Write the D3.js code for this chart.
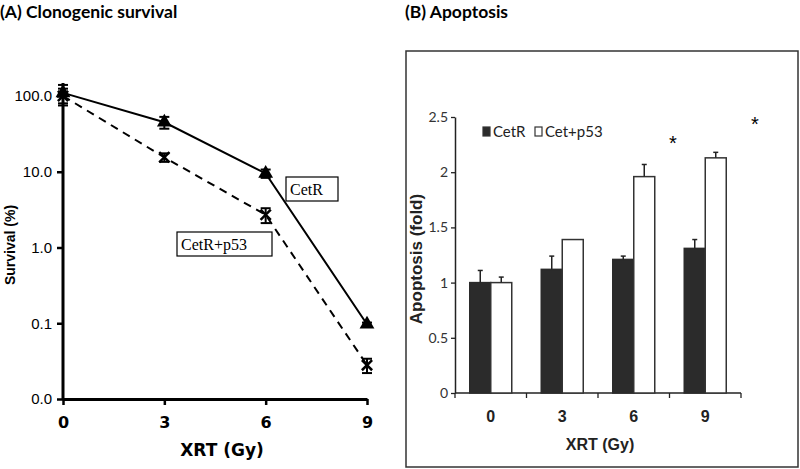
<!DOCTYPE html>
<html><head><meta charset="utf-8">
<script src="https://cdn.jsdelivr.net/npm/d3@7"></script>
<style>body{margin:0;background:#fff}svg{display:block}</style>
</head><body>
<script>
// ---- Panel A data ----
const doses = [0, 3, 6, 9];
const survivalCetR = [110, 45, 9.5, 0.097];
const survivalCetRErr = [30, 8, 1.2, 0.005];
const survivalP53 = [100, 15.5, 2.7, 0.028];
const survivalP53Err = [25, 2, 0.6, 0.006];
const survTicks = [0.01, 0.1, 1, 10, 100];
const survTickLabels = ["0.0", "0.1", "1.0", "10.0", "100.0"];

// ---- Panel B data ----
const categories = ["0", "3", "6", "9"];
const apopCetR = [1.0, 1.12, 1.21, 1.31];
const apopCetRErr = [0.11, 0.12, 0.03, 0.08];
const apopP53 = [1.0, 1.39, 1.96, 2.13];
const apopP53Err = [0.05, 0, 0.11, 0.05];
const apopTicks = [0, 0.5, 1, 1.5, 2, 2.5];
const seriesNames = ["CetR", "Cet+p53"];

const svg = d3.select("body").append("svg").attr("width", 800).attr("height", 469);

// ================= Panel A =================
const gA = svg.append("g");
gA.append("text").attr("x", 0).attr("y", 18).text("(A) Clonogenic survival")
  .attr("font-family", "Lato").attr("font-weight", "bold").attr("font-size", 17.5);

const xA = d3.scaleLinear().domain([0, 9]).range([63, 367]);
const yA = d3.scaleLog().domain([0.01, 100]).range([399, 96]);

// axes
const yAxisA = d3.axisLeft(yA).tickValues(survTicks).tickFormat((d, i) => survTickLabels[i]).tickSize(6).tickSizeOuter(0);
const yg = gA.append("g").attr("transform", "translate(63,0)").call(yAxisA);
yg.select(".domain").remove();
gA.append("line").attr("x1", 63).attr("x2", 63).attr("y1", 83).attr("y2", 400).attr("stroke", "#000").attr("stroke-width", 3);
yg.selectAll(".tick line").attr("stroke-width", 2.5);
yg.selectAll(".tick text").attr("font-family", "Liberation Sans").attr("font-size", 15).attr("x", -11);

const xAxisA = d3.axisBottom(xA).tickValues(doses).tickSize(6).tickSizeOuter(0);
const xg = gA.append("g").attr("transform", "translate(0,399)").call(xAxisA);
xg.select(".domain").attr("stroke-width", 3);
xg.selectAll(".tick line").attr("stroke-width", 2.5);
xg.selectAll(".tick text").attr("font-family", "DejaVu Sans").attr("font-weight", "bold").attr("font-size", 16).attr("dy", "1.25em");

gA.append("text").attr("x", 222).attr("y", 456).attr("text-anchor", "middle").text("XRT (Gy)")
  .attr("font-family", "DejaVu Sans").attr("font-weight", "bold").attr("font-size", 17);
gA.append("text").attr("transform", "translate(15,245) rotate(-90)").attr("text-anchor", "middle").text("Survival (%)")
  .attr("font-family", "Liberation Sans").attr("font-weight", "bold").attr("font-size", 14);

// lines
const lineA = (vals) => d3.line().x((d, i) => xA(doses[i])).y(d => yA(d))(vals);
gA.append("path").attr("d", lineA(survivalCetR)).attr("fill", "none").attr("stroke", "#000").attr("stroke-width", 2);
gA.append("path").attr("d", lineA(survivalP53)).attr("fill", "none").attr("stroke", "#000").attr("stroke-width", 2).attr("stroke-dasharray", "8,6");

function errBars(g, vals, errs) {
  vals.forEach((v, i) => {
    const x = xA(doses[i]);
    const y1 = yA(v + errs[i]), y2 = yA(Math.max(v - errs[i], 0.0105));
    g.append("line").attr("x1", x).attr("x2", x).attr("y1", y1).attr("y2", y2).attr("stroke", "#000").attr("stroke-width", 2);
    [y1, y2].forEach(y => g.append("line").attr("x1", x - 5).attr("x2", x + 5).attr("y1", y).attr("y2", y).attr("stroke", "#000").attr("stroke-width", 2));
  });
}
errBars(gA, survivalCetR, survivalCetRErr);
errBars(gA, survivalP53, survivalP53Err);

gA.selectAll(".tri").data(survivalCetR).join("path")
  .attr("transform", (d, i) => `translate(${xA(doses[i])},${yA(d)})`)
  .attr("d", d3.symbol(d3.symbolTriangle, 95)).attr("fill", "#000");
gA.selectAll(".xm").data(survivalP53).join("path")
  .attr("transform", (d, i) => `translate(${xA(doses[i])},${yA(d)})`)
  .attr("d", d3.symbol(d3.symbolTimes, 70)).attr("fill", "none").attr("stroke", "#000").attr("stroke-width", 2.5);

// label boxes
function labelBox(x, y, w, h, txt) {
  gA.append("rect").attr("x", x).attr("y", y).attr("width", w).attr("height", h).attr("fill", "#fff").attr("stroke", "#000").attr("stroke-width", 1.2);
  gA.append("text").attr("x", x + 4).attr("y", y + h - 6).text(txt).attr("font-family", "Liberation Serif").attr("font-size", 16);
}
labelBox(286, 177, 52, 24, "CetR");
labelBox(177, 232, 95, 24, "CetR+p53");

// ================= Panel B =================
const gB = svg.append("g");
gB.append("text").attr("x", 405).attr("y", 18).text("(B) Apoptosis")
  .attr("font-family", "Lato").attr("font-weight", "bold").attr("font-size", 17.5);
gB.append("rect").attr("x", 406).attr("y", 51).attr("width", 392).attr("height", 416).attr("fill", "none").attr("stroke", "#333").attr("stroke-width", 1.5);

const xB = d3.scaleBand().domain(categories).range([455, 741]).paddingInner(0).paddingOuter(0);
const yB = d3.scaleLinear().domain([0, 2.5]).range([393, 117]);
const bw = 21;

const yAxisB = d3.axisLeft(yB).tickValues(apopTicks).tickFormat(d3.format("")).tickSize(4).tickSizeOuter(0);
const ygB = gB.append("g").attr("transform", "translate(455,0)").call(yAxisB);
ygB.select(".domain").attr("stroke", "#222").attr("stroke-width", 1.5);
ygB.selectAll(".tick line").attr("stroke", "#222").attr("stroke-width", 1.3);
ygB.selectAll(".tick text").attr("font-family", "Lato").attr("font-size", 14).attr("fill", "#333");

// x axis with ticks at band boundaries
gB.append("line").attr("x1", 455).attr("x2", 741).attr("y1", 393).attr("y2", 393).attr("stroke", "#222").attr("stroke-width", 1.5);
const bounds = categories.map(c => xB(c)).concat([xB.range()[1]]);
gB.selectAll(".bt").data(bounds).join("line").attr("x1", d => d).attr("x2", d => d).attr("y1", 393).attr("y2", 398).attr("stroke", "#222").attr("stroke-width", 1.3);
gB.selectAll(".cl").data(categories).join("text").attr("x", d => xB(d) + xB.bandwidth() / 2).attr("y", 422)
  .attr("text-anchor", "middle").text(d => d).attr("font-family", "Liberation Sans").attr("font-weight", "bold").attr("font-size", 16).attr("fill", "#222");
gB.append("text").attr("x", 600).attr("y", 450).attr("text-anchor", "middle").text("XRT (Gy)")
  .attr("font-family", "Liberation Sans").attr("font-weight", "bold").attr("font-size", 16).attr("fill", "#222");
gB.append("text").attr("transform", "translate(422,259) rotate(-90)").attr("text-anchor", "middle").text("Apoptosis (fold)")
  .attr("font-family", "Liberation Sans").attr("font-weight", "bold").attr("font-size", 17).attr("fill", "#222");

function barsB(vals, errs, offset, fill) {
  vals.forEach((v, i) => {
    const cx = xB(categories[i]) + xB.bandwidth() / 2;
    const x0 = cx + offset;
    gB.append("rect").attr("x", x0).attr("y", yB(v)).attr("width", bw).attr("height", yB(0) - yB(v))
      .attr("fill", fill).attr("stroke", fill === "#fff" ? "#333" : "#2b2b2b").attr("stroke-width", 1.5);
    if (errs[i] > 0) {
      const ex = x0 + bw / 2;
      gB.append("line").attr("x1", ex).attr("x2", ex).attr("y1", yB(v)).attr("y2", yB(v + errs[i])).attr("stroke", "#222").attr("stroke-width", 1.5);
      gB.append("line").attr("x1", ex - 2.5).attr("x2", ex + 2.5).attr("y1", yB(v + errs[i])).attr("y2", yB(v + errs[i])).attr("stroke", "#222").attr("stroke-width", 1.5);
    }
  });
}
barsB(apopCetR, apopCetRErr, -bw, "#2b2b2b");
barsB(apopP53, apopP53Err, 0, "#fff");

// significance stars
gB.append("text").attr("x", 673).attr("y", 150).attr("text-anchor", "middle").text("*").attr("font-family", "Liberation Sans").attr("font-size", 20);
gB.append("text").attr("x", 755).attr("y", 131).attr("text-anchor", "middle").text("*").attr("font-family", "Liberation Sans").attr("font-size", 20);

// legend
const legX = [483, 535];
const legFill = ["#2b2b2b", "#fff"];
seriesNames.forEach((n, i) => {
  gB.append("rect").attr("x", legX[i]).attr("y", 127).attr("width", 7).attr("height", 9).attr("fill", legFill[i]).attr("stroke", "#333").attr("stroke-width", 1.2);
  gB.append("text").attr("x", legX[i] + 10).attr("y", 137).text(n).attr("font-family", "Lato").attr("font-size", 15).attr("fill", "#222");
});
</script>
</body></html>
